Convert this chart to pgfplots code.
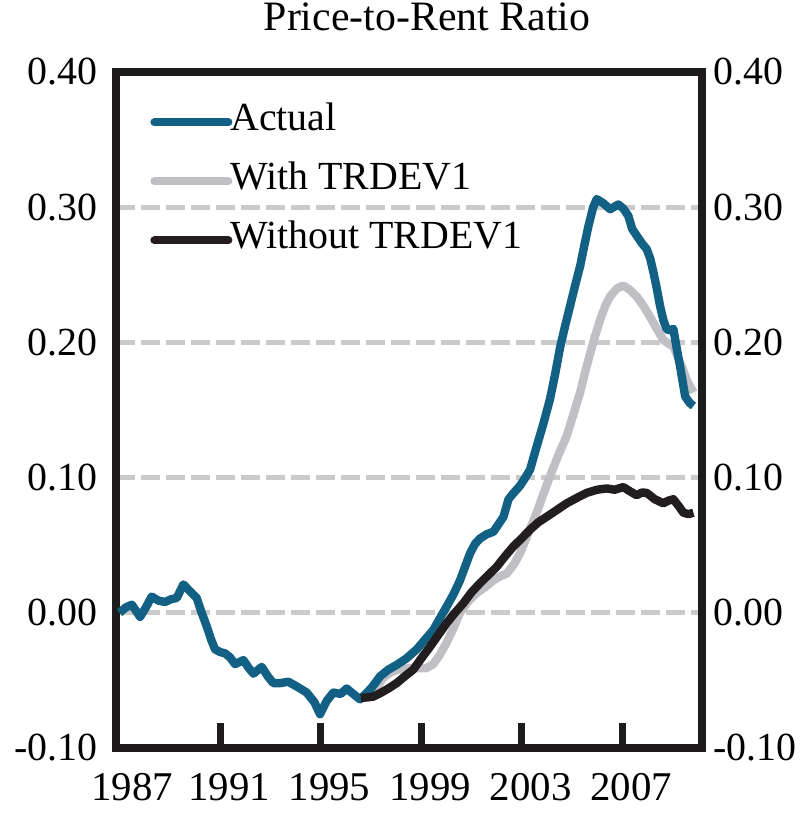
\documentclass[border=0pt]{standalone}
\usepackage{pgfplots}
\pgfplotsset{compat=1.18}
\usepackage{fontspec}
\setmainfont{Liberation Serif}
\definecolor{actualblue}{RGB}{18,96,132}
\definecolor{withgray}{RGB}{192,192,196}
\definecolor{withoutblack}{RGB}{34,30,31}
\definecolor{gridgray}{RGB}{202,202,202}
\definecolor{framecol}{RGB}{30,27,28}

\pgfplotstableread{
x y
1987.00 0.000
1987.25 0.004
1987.49 0.006
1987.82 -0.003
1988.05 0.004
1988.28 0.012
1988.55 0.009
1988.81 0.008
1989.05 0.010
1989.28 0.011
1989.54 0.021
1989.80 0.016
1990.07 0.011
1990.27 0.000
1990.47 -0.010
1990.65 -0.020
1990.80 -0.027
1991.00 -0.029
1991.20 -0.030
1991.40 -0.033
1991.60 -0.038
1991.93 -0.035
1992.15 -0.041
1992.33 -0.045
1992.66 -0.040
1992.90 -0.047
1993.12 -0.052
1993.40 -0.052
1993.72 -0.051
1994.10 -0.055
1994.45 -0.059
1994.75 -0.066
1994.98 -0.075
1995.25 -0.065
1995.51 -0.059
1995.80 -0.060
1996.04 -0.056
1996.30 -0.060
1996.57 -0.064
1996.80 -0.060
1997.05 -0.055
1997.37 -0.047
1997.70 -0.042
1998.03 -0.0385
1998.40 -0.034
1998.83 -0.027
1999.15 -0.020
1999.49 -0.0126
1999.75 -0.004
2000.02 0.0047
2000.30 0.014
2000.55 0.024
2000.75 0.034
2000.95 0.044
2001.15 0.051
2001.35 0.055
2001.60 0.058
2001.88 0.060
2002.10 0.066
2002.28 0.071
2002.48 0.084
2002.70 0.089
2002.94 0.094
2003.15 0.100
2003.34 0.106
2003.60 0.123
2003.87 0.140
2004.13 0.158
2004.33 0.176
2004.53 0.196
2004.73 0.212
2004.93 0.227
2005.13 0.242
2005.33 0.2565
2005.50 0.272
2005.66 0.286
2005.85 0.300
2005.99 0.306
2006.25 0.303
2006.52 0.2985
2006.85 0.302
2007.05 0.299
2007.25 0.2935
2007.40 0.284
2007.58 0.279
2007.80 0.273
2007.98 0.269
2008.12 0.262
2008.25 0.2516
2008.38 0.240
2008.51 0.227
2008.65 0.216
2008.78 0.2096
2008.90 0.209
2009.04 0.210
2009.18 0.195
2009.31 0.182
2009.51 0.160
2009.70 0.155
2009.84 0.153
}\actual

\pgfplotstableread{
x y
1996.60 -0.063
1996.90 -0.061
1997.20 -0.056
1997.50 -0.048
1997.80 -0.044
1998.10 -0.042
1998.50 -0.041
1998.90 -0.041
1999.20 -0.041
1999.49 -0.038
1999.75 -0.031
2000.02 -0.022
2000.30 -0.011
2000.55 0.000
2000.90 0.009
2001.22 0.0146
2001.55 0.019
2001.88 0.024
2002.15 0.027
2002.41 0.029
2002.70 0.036
2002.94 0.044
2003.25 0.058
2003.60 0.074
2003.87 0.088
2004.13 0.101
2004.45 0.116
2004.80 0.131
2005.05 0.146
2005.33 0.163
2005.53 0.178
2005.73 0.192
2005.93 0.205
2006.13 0.217
2006.33 0.227
2006.52 0.234
2006.80 0.240
2007.05 0.242
2007.30 0.239
2007.58 0.234
2007.85 0.227
2008.11 0.219
2008.38 0.210
2008.64 0.202
2008.85 0.199
2009.04 0.197
2009.20 0.190
2009.38 0.182
2009.60 0.171
2009.84 0.163
}\withtr

\pgfplotstableread{
x y
1996.60 -0.063
1996.90 -0.0625
1997.10 -0.062
1997.37 -0.0595
1997.70 -0.056
1998.03 -0.052
1998.35 -0.047
1998.69 -0.042
1999.00 -0.034
1999.36 -0.025
1999.70 -0.016
2000.02 -0.0076
2000.35 0.000
2000.68 0.007
2001.00 0.015
2001.35 0.022
2001.68 0.028
2002.01 0.034
2002.35 0.042
2002.67 0.049
2003.00 0.055
2003.34 0.0615
2003.67 0.067
2004.00 0.071
2004.40 0.076
2004.80 0.081
2005.20 0.085
2005.59 0.0887
2006.00 0.091
2006.39 0.092
2006.70 0.091
2007.05 0.093
2007.30 0.090
2007.58 0.087
2007.80 0.089
2007.98 0.0887
2008.30 0.084
2008.64 0.081
2008.85 0.083
2009.04 0.084
2009.25 0.079
2009.44 0.074
2009.65 0.073
2009.84 0.074
}\withouttr

\begin{document}
\begin{tikzpicture}
\begin{axis}[
  scale only axis, width=293bp, height=338bp,
  xmin=1986.86, xmax=2010.18, ymin=-0.10, ymax=0.40,
  axis line style={line width=4bp, framecol},
  xtick={1991,1995,1999,2003,2007},
  xticklabels={\hspace*{9bp}1991,\hspace*{9bp}1995,\hspace*{9bp}1999,\hspace*{9bp}2003,\hspace*{9bp}2007},
  extra x ticks={1987}, extra x tick labels={\hspace*{12.5bp}1987},
  extra x tick style={major tick length=0pt},
  xtick pos=bottom, tick align=inside,
  x tick style={line width=3.5bp, framecol},
  major tick length=12.5bp,
  xticklabel style={font=\fontsize{20.5}{24}\selectfont, inner sep=0pt, anchor=north, yshift=-12.5bp},
  ytick={-0.1,0,0.1,0.2,0.3,0.4},
  yticklabels={-0.10,0.00,0.10,0.20,0.30,0.40},
  ytick pos=left,
  y tick style={draw=none},
  yticklabel style={font=\fontsize{20}{24}\selectfont, inner sep=0pt, anchor=east, xshift=-9bp},
  ymajorgrids,
  major grid style={gridgray, line width=2.5bp, dash pattern=on 9.5bp off 3bp},
  title={Price-to-Rent Ratio},
  title style={at={(0.5,1)}, anchor=base, yshift=15bp, xshift=9bp, inner sep=0pt, font=\fontsize{21}{25}\selectfont},
  legend style={at={(0.058,0.9556)}, anchor=north west, draw=none, fill=none,
    font=\fontsize{20}{24}\selectfont, row sep=15.5bp, column sep=-1bp, inner sep=0pt,
    nodes={inner sep=0pt, text height=14bp, text depth=0bp}},
  legend cell align=left,
  legend image code/.code={\draw[#1, line cap=round] (0bp,-3bp) -- (37bp,-3bp);},
  clip=false,
]
\addlegendimage{actualblue, line width=4bp}
\addlegendentry{Actual}
\addlegendimage{withgray, line width=4bp}
\addlegendentry{With TRDEV1}
\addlegendimage{withoutblack, line width=4bp}
\addlegendentry{Without TRDEV1}
\addplot[withgray, line width=4.2bp, line join=round, forget plot] table {\withtr};
\addplot[actualblue, line width=4.2bp, line join=round, forget plot] table {\actual};
\addplot[withoutblack, line width=4.2bp, line join=round, forget plot] table {\withouttr};
\coordinate (sw) at (rel axis cs:0,0);
\coordinate (ne) at (rel axis cs:1,1);
\end{axis}
\begin{axis}[
  scale only axis, width=293bp, height=338bp,
  xmin=1986.86, xmax=2010.18, ymin=-0.10, ymax=0.40,
  axis x line=none, axis y line*=right,
  y axis line style={draw=none},
  ytick={-0.1,0,0.1,0.2,0.3,0.4},
  yticklabels={-0.10,0.00,0.10,0.20,0.30,0.40},
  y tick style={draw=none},
  major tick length=0pt,
  yticklabel style={font=\fontsize{20}{24}\selectfont, inner sep=0pt, anchor=west, xshift=5.5bp},
]
\addplot[draw=none] coordinates {(1990,0)};
\end{axis}
\pgfresetboundingbox
\path ([shift={(-58bp,-36.5bp)}]sw) rectangle ([shift={(52bp,36bp)}]ne);
\end{tikzpicture}
\end{document}
